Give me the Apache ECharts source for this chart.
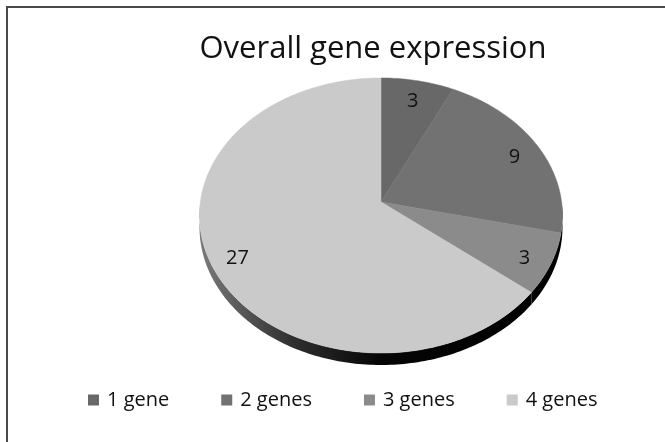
<!DOCTYPE html>
<html>
<head>
<meta charset="utf-8">
<script src="https://cdn.jsdelivr.net/npm/echarts@6/dist/echarts.min.js"></script>
<style>
  html, body { margin: 0; padding: 0; background: #fff; }
  #chart { width: 665px; height: 442px; }
</style>
</head>
<body>
<div id="chart"></div>
<script>
// Categories and counts shown in the pie
const categories = ['1 gene', '2 genes', '3 genes', '4 genes'];
const geneCounts = [3, 9, 3, 27];
const sliceColors = ['#686868', '#727272', '#8b8b8b', '#cacaca'];
const chartTitle = 'Overall gene expression';

const FONT = '"Open Sans", "DejaVu Sans", sans-serif';

// Tilted-disc layout
const CX = 381, CY = 202;     // apex of the slices
const RX = 180.6, RY = 136.2; // horizontal / vertical radius of the top face
const PERSP = -0.098;         // perspective foreshortening of the far side
const DEPTH = 12;             // thickness of the disc
const LABEL_R = 0.85;         // label radius as a fraction of the disc radius
const LABEL_DY = 4;           // small downward nudge of the value labels

const total = geneCounts.reduce((a, b) => a + b, 0);

// angle measured clockwise from 12 o'clock, f = radial fraction
function project(ang, f, drop) {
  const u = f * Math.sin(ang), v = -f * Math.cos(ang);
  const den = 1 + PERSP * v;
  return [CX + RX * u / den, CY + RY * v / den + (drop || 0)];
}

function arcPoints(a0, a1, drop) {
  const pts = [];
  const n = Math.max(2, Math.ceil((a1 - a0) / (Math.PI / 180)));
  for (let k = 0; k <= n; k++) pts.push(project(a0 + (a1 - a0) * k / n, 1, drop));
  return pts;
}

function sliceAngles(idx) {
  let before = 0;
  for (let i = 0; i < idx; i++) before += geneCounts[i];
  const a0 = before / total * Math.PI * 2;
  const a1 = (before + geneCounts[idx]) / total * Math.PI * 2;
  return [a0, a1];
}

const sideFill = {
  type: 'linear', global: true,
  x: CX - RX, y: 0, x2: CX + RX, y2: 0,
  colorStops: [
    { offset: 0, color: '#7a7a7a' },
    { offset: 0.25, color: '#303030' },
    { offset: 0.5, color: '#050505' },
    { offset: 1, color: '#000000' }
  ]
};

function renderSlice(params, api) {
  const idx = params.seriesIndex;
  const [a0, a1] = sliceAngles(idx);
  const children = [];

  // visible front wall (lower half of the disc)
  const f0 = Math.max(a0, Math.PI / 2), f1 = Math.min(a1, Math.PI * 1.5);
  if (f1 > f0) {
    const top = arcPoints(f0, f1, 0);
    const bottom = arcPoints(f0, f1, DEPTH).reverse();
    children.push({
      type: 'polygon',
      shape: { points: top.concat(bottom) },
      style: { fill: sideFill },
      z2: 1
    });
  }

  // top face
  const face = [project(0, 0)].concat(arcPoints(a0, a1, 0));
  children.push({
    type: 'polygon',
    shape: { points: face },
    style: { fill: sliceColors[idx], stroke: sliceColors[idx], lineWidth: 0.5 },
    z2: 2
  });

  // value label
  const mid = (a0 + a1) / 2;
  const p = project(mid, LABEL_R);
  children.push({
    type: 'text',
    x: p[0], y: p[1] + LABEL_DY,
    style: {
      text: String(api.value(0)),
      fill: '#111111',
      font: '20px ' + FONT,
      align: 'center',
      verticalAlign: 'middle'
    },
    z2: 10
  });

  return { type: 'group', children };
}

const chart = echarts.init(document.getElementById('chart'), null, { renderer: 'canvas' });

chart.setOption({
  backgroundColor: '#ffffff',
  animation: false,
  title: {
    text: chartTitle,
    left: 368, top: 29,
    textAlign: 'center',
    textStyle: { fontFamily: FONT, fontSize: 31, fontWeight: 'normal', color: '#111111' }
  },
  legend: {
    data: categories,
    top: 385,
    left: 83,
    icon: 'rect',
    itemWidth: 11,
    itemHeight: 11,
    itemGap: 52,
    textStyle: { fontFamily: FONT, fontSize: 20, color: '#111111', padding: [0, 0, 0, 3] },
    selectedMode: false
  },
  graphic: [{
    type: 'rect',
    shape: { x: 7, y: 7, width: 700, height: 480 },
    style: { fill: 'none', stroke: '#4a4a4a', lineWidth: 2 },
    silent: true
  }],
  series: categories.map((name, i) => ({
    type: 'custom',
    name: name,
    coordinateSystem: 'none',
    itemStyle: { color: sliceColors[i] },
    data: [[geneCounts[i]]],
    renderItem: renderSlice
  }))
});
</script>
</body>
</html>
